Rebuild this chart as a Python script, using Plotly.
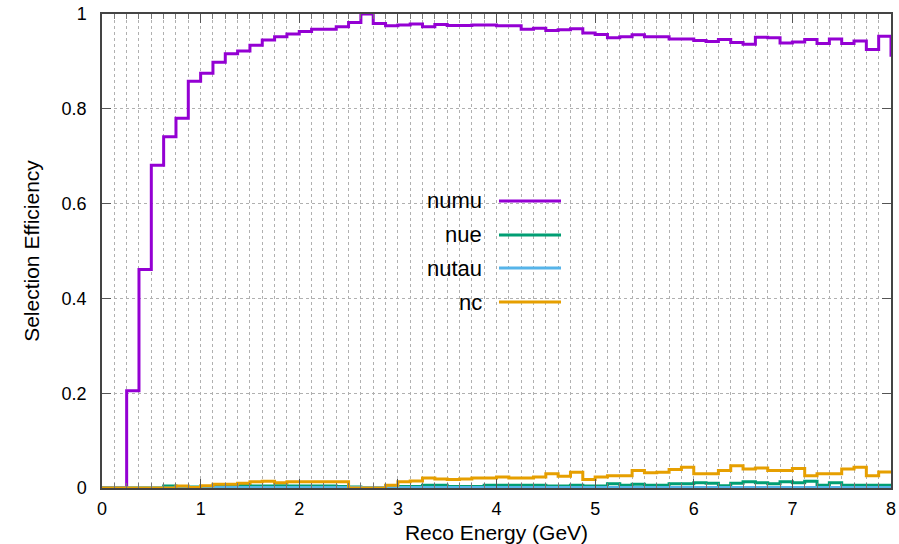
import numpy as np
import plotly.graph_objects as go

# Bin edges: 0.125 GeV bins from 0 to 8 (plus one overflow bin just past 8)
bin_width = 0.125
n_bins = 65
edges = [i * bin_width for i in range(n_bins + 1)]

numu = [0.0, 0.0, 0.205, 0.461, 0.681, 0.741, 0.780, 0.858,
        0.875, 0.898, 0.916, 0.922, 0.934, 0.945, 0.952, 0.958,
        0.963, 0.968, 0.968, 0.973, 0.982, 1.000, 0.980, 0.975,
        0.977, 0.979, 0.973, 0.978, 0.976, 0.976, 0.977, 0.977,
        0.975, 0.975, 0.968, 0.970, 0.965, 0.967, 0.969, 0.960,
        0.957, 0.950, 0.952, 0.956, 0.952, 0.952, 0.947, 0.947,
        0.944, 0.942, 0.946, 0.940, 0.936, 0.951, 0.950, 0.939,
        0.941, 0.946, 0.938, 0.947, 0.938, 0.943, 0.925, 0.953,
        0.913]

nue = [0.0, 0.0, 0.0, 0.0, 0.0, 0.004, 0.002, 0.002,
       0.002, 0.003, 0.003, 0.006, 0.004, 0.004, 0.005, 0.004,
       0.004, 0.004, 0.004, 0.003, 0.002, 0.001, 0.001, 0.002,
       0.003, 0.003, 0.006, 0.006, 0.003, 0.003, 0.003, 0.006,
       0.006, 0.006, 0.006, 0.006, 0.004, 0.004, 0.006, 0.004,
       0.004, 0.009, 0.006, 0.008, 0.006, 0.006, 0.009, 0.009,
       0.011, 0.010, 0.005, 0.010, 0.013, 0.011, 0.009, 0.013,
       0.011, 0.014, 0.006, 0.011, 0.006, 0.006, 0.006, 0.006,
       0.006]

nutau = [0.0] * 8 + [0.001] * 57

nc = [0.0, 0.0, 0.0, 0.0, 0.0, 0.0, 0.004, 0.001,
      0.005, 0.008, 0.008, 0.010, 0.013, 0.014, 0.011, 0.013,
      0.013, 0.013, 0.013, 0.013, 0.0, 0.0, 0.0, 0.006,
      0.013, 0.015, 0.021, 0.019, 0.018, 0.019, 0.021, 0.021,
      0.023, 0.021, 0.021, 0.023, 0.030, 0.025, 0.033, 0.018,
      0.023, 0.026, 0.026, 0.037, 0.032, 0.033, 0.039, 0.044,
      0.030, 0.030, 0.037, 0.047, 0.040, 0.042, 0.037, 0.037,
      0.041, 0.026, 0.030, 0.030, 0.040, 0.044, 0.026, 0.034,
      0.034]

series_names = ["numu", "nue", "nutau", "nc"]
series_values = [numu, nue, nutau, nc]
series_colors = ["#9400D3", "#009E73", "#56B4E9", "#E69F00"]

x_ticks = [0, 1, 2, 3, 4, 5, 6, 7, 8]
y_ticks = [0, 0.2, 0.4, 0.6, 0.8, 1.0]

FONT = "Liberation Sans, Arial, Helvetica, sans-serif"

fig = go.Figure()
for name, vals, col in zip(series_names, series_values, series_colors):
    xs = edges[:len(vals)] + [edges[len(vals)]]
    ys = list(vals) + [vals[-1]]
    fig.add_trace(go.Scatter(x=xs, y=ys, mode="lines", name=name,
                             line=dict(color=col, width=3, shape="hv"),
                             showlegend=False))

# plot-area geometry (pixels) for the custom gnuplot-style key
L, R, T, B = 102, 891, 14, 488
W, H = R - L, B - T
def px(x):
    return (x - L) / W
def py(y):
    return (B - y) / H

shapes = [dict(type="rect", xref="paper", yref="paper",
               x0=px(415), x1=px(572), y0=py(320), y1=py(183),
               fillcolor="white", line=dict(width=0), layer="between")]
annotations = []
key_y = [201, 235, 268, 302]
for name, col, yy in zip(series_names, series_colors, key_y):
    annotations.append(dict(xref="paper", yref="paper", x=px(484), y=py(yy),
                            text=name, showarrow=False, xanchor="right",
                            yanchor="middle",
                            font=dict(family=FONT, size=22, color="black")))
    shapes.append(dict(type="line", xref="paper", yref="paper",
                       x0=px(499), x1=px(561), y0=py(yy), y1=py(yy),
                       line=dict(color=col, width=3), layer="above"))

fig.update_layout(
    width=899, height=544,
    margin=dict(l=L, r=899 - R, t=T, b=544 - B),
    paper_bgcolor="white", plot_bgcolor="white",
    font=dict(family=FONT, size=18, color="black"),
    shapes=shapes, annotations=annotations,
    showlegend=False,
)
fig.update_xaxes(
    range=[0, 8], tickvals=x_ticks, ticks="inside", ticklen=9,
    tickcolor="#555", tickwidth=1.2, automargin=False,
    showline=True, linecolor="#444", linewidth=1.5, mirror="allticks",
    showgrid=True, gridcolor="#b0b0b0", griddash="dot", gridwidth=1,
    zeroline=False,
    minor=dict(dtick=0.125, ticks="inside", ticklen=5, tickcolor="#777",
               showgrid=True, gridcolor="#b0b0b0", griddash="dot", gridwidth=1),
    ticklabelstandoff=4,
    title=dict(text="Reco Energy (GeV)", font=dict(size=21), standoff=8),
)
fig.update_yaxes(
    range=[0, 1], tickvals=y_ticks, ticktext=["0", "0.2", "0.4", "0.6", "0.8", "1"],
    ticks="inside", ticklen=9, tickcolor="#555", tickwidth=1.2, automargin=False,
    showline=True, linecolor="#444", linewidth=1.5, mirror="allticks",
    showgrid=True, gridcolor="#b0b0b0", griddash="dot", gridwidth=1,
    zeroline=False,
    ticklabelstandoff=10,
    title=dict(text="Selection Efficiency", font=dict(size=21), standoff=16),
)

fig.write_html("out.html")
